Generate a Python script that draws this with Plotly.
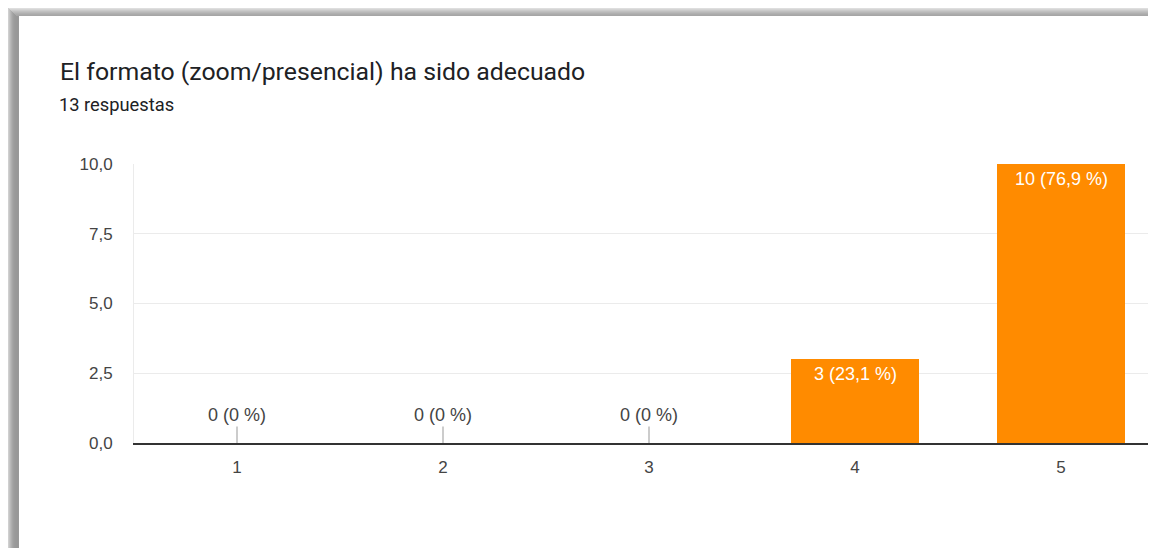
import plotly.graph_objects as go

categories = ["1", "2", "3", "4", "5"]
counts = [0, 0, 0, 3, 10]
labels = ["0 (0 %)", "0 (0 %)", "0 (0 %)", "3 (23,1 %)", "10 (76,9 %)"]
y_ticks = [0, 2.5, 5, 7.5, 10]
y_tick_labels = ["0,0", "2,5", "5,0", "7,5", "10,0"]
title = "El formato (zoom/presencial) ha sido adecuado"
subtitle = "13 respuestas"

# page has an 8px body margin; figure coordinates are page coordinates minus 8
OFF = 8
W, H = 1156 - 2 * OFF, 556 - 2 * OFF
L, R, T = 134 - OFF, 0, 164 - OFF
B = H - (443 - OFF)
PW, PH = W - L - R, H - T - B


def px(x):
    # x in page pixels
    return (x - OFF - L) / PW


def py(y):
    # y in page pixels
    return (H - B - (y - OFF)) / PH


x_pos = [int(c) for c in categories]

fig = go.Figure()
fig.add_trace(go.Bar(
    x=x_pos, y=counts, width=0.617,
    marker=dict(color="#ff8b00", line=dict(width=0)),
    hoverinfo="skip",
))

annotations = []
for xv, v, lab in zip(x_pos, counts, labels):
    if v > 0:
        annotations.append(dict(
            x=xv, y=v, xref="x", yref="y", text=lab, showarrow=False,
            yshift=-15, font=dict(family="Liberation Sans, Arial", size=18, color="#ffffff"),
        ))
    else:
        annotations.append(dict(
            x=xv, y=v, xref="x", yref="y", text=lab, showarrow=True,
            ax=0, ay=-28, arrowhead=0, arrowwidth=1, arrowcolor="#999999",
            standoff=0, startstandoff=0,
            font=dict(family="Liberation Sans, Arial", size=18, color="#444444"),
        ))

annotations.append(dict(
    x=px(58), y=py(71), xref="paper", yref="paper", xanchor="left", yanchor="middle",
    text=title, showarrow=False,
    font=dict(family="Roboto", size=24.8, color="#202124"),
))
annotations.append(dict(
    x=px(57), y=py(104), xref="paper", yref="paper", xanchor="left", yanchor="middle",
    text=subtitle, showarrow=False,
    font=dict(family="Roboto", size=18.3, color="#202124"),
))

shapes = []
# top shadow (page y 8..16)
top_cols = ["#dedede", "#d4d4d4", "#cacaca", "#c0c0c0", "#b8b8b8", "#b0b0b0", "#aaaaaa", "#a6a6a6"]
for i, c in enumerate(top_cols):
    y0 = OFF + i
    y1 = OFF + i + 1
    shapes.append(dict(type="rect", xref="paper", yref="paper",
                       x0=px(OFF + i), x1=px(1170), y0=py(y1), y1=py(y0),
                       fillcolor=c, line=dict(width=0), layer="below"))
# left shadow (page x 8..19)
left_cols = ["#d0d0d0", "#c4c4c4", "#b8b8b8", "#aeaeae", "#a5a5a5", "#9f9f9f",
             "#9b9b9b", "#999999", "#989898", "#979797", "#999999"]
for i, c in enumerate(left_cols):
    x0 = OFF + i
    x1 = OFF + i + 1
    shapes.append(dict(type="rect", xref="paper", yref="paper",
                       x0=px(x0), x1=px(x1), y0=py(570), y1=py(OFF + min(i, 8)),
                       fillcolor=c, line=dict(width=0), layer="below"))
# white card
shapes.append(dict(type="rect", xref="paper", yref="paper",
                   x0=px(19), x1=px(1170), y0=py(570), y1=py(16),
                   fillcolor="#ffffff", line=dict(width=0), layer="below"))

fig.update_layout(
    width=W, height=H,
    margin=dict(l=L, r=R, t=T, b=B, pad=0),
    paper_bgcolor="#ffffff", plot_bgcolor="rgba(0,0,0,0)",
    showlegend=False,
    annotations=annotations,
    shapes=shapes,
    bargap=0,
    xaxis=dict(
        range=[0.5, 0.5 + PW / 206], tickvals=x_pos, ticktext=categories,
        showgrid=False, zeroline=False,
        showline=True, linecolor="#333333", linewidth=2,
        ticks="outside", ticklen=8, tickcolor="rgba(0,0,0,0)",
        tickfont=dict(family="Liberation Sans, Arial", size=17, color="#444444"),
        fixedrange=True,
    ),
    yaxis=dict(
        range=[0, 10], tickvals=y_ticks, ticktext=y_tick_labels,
        showgrid=True, gridcolor="#ebebeb", gridwidth=1, zeroline=False,
        showline=True, linecolor="#ebebeb", linewidth=1,
        ticks="outside", ticklen=17, tickcolor="rgba(0,0,0,0)",
        tickfont=dict(family="Liberation Sans, Arial", size=17, color="#444444"),
        fixedrange=True,
    ),
)

fig.write_html("out.html", config={"displayModeBar": False})
